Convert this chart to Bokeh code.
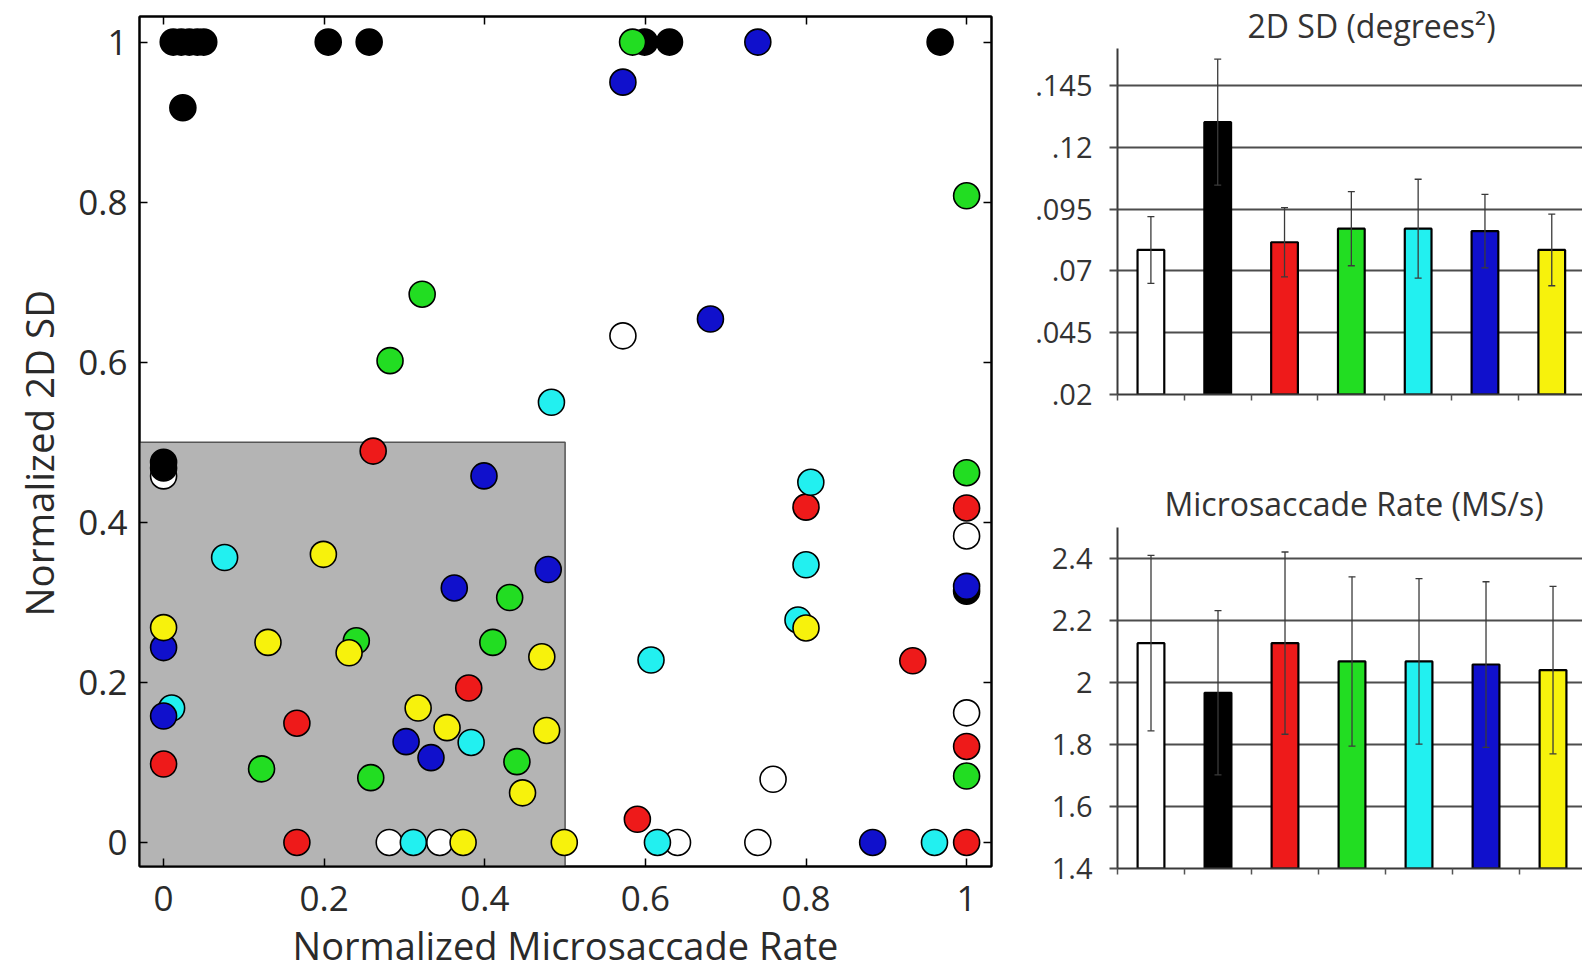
from bokeh.plotting import figure
from bokeh.layouts import row, column
from bokeh.models import LinearAxis, FixedTicker, Range1d, ColumnDataSource, Whisker, TeeHead, Title
from bokeh.embed import file_html
from bokeh.resources import INLINE

FONT = "Open Sans"
TXT = "#2a2a2a"

# ---------------- data ----------------
condition_names = ["White", "Black", "Red", "Green", "Cyan", "Blue", "Yellow"]
condition_colors = ["#ffffff", "#000000", "#ee1a1a", "#22dd22", "#22f0f0", "#1010cc", "#f7f20c"]

white_x = [0.572, 0.0, 1.0, 1.0, 0.759, 0.281, 0.344, 0.64, 0.74]
white_y = [0.633, 0.458, 0.383, 0.162, 0.079, 0.0, 0.0, 0.0, 0.0]

black_x = [0.012, 0.022, 0.032, 0.042, 0.05, 0.024, 0.205, 0.256, 0.599, 0.63, 0.967, 0.0, 0.0, 1.0]
black_y = [1.0, 1.0, 1.0, 1.0, 1.0, 0.918, 1.0, 1.0, 1.0, 1.0, 1.0, 0.475, 0.468, 0.314]

red_x = [0.261, 0.8, 1.0, 0.933, 0.38, 0.166, 0.0, 1.0, 0.166, 0.59, 1.0]
red_y = [0.489, 0.419, 0.418, 0.227, 0.193, 0.149, 0.098, 0.12, 0.0, 0.029, 0.0]

green_x = [0.584, 1.0, 0.322, 0.282, 1.0, 0.431, 0.24, 0.41, 0.122, 0.258, 0.44, 1.0]
green_y = [1.0, 0.808, 0.685, 0.602, 0.462, 0.306, 0.252, 0.25, 0.092, 0.081, 0.101, 0.083]

cyan_x = [0.483, 0.076, 0.806, 0.8, 0.79, 0.607, 0.01, 0.383, 0.311, 0.615, 0.96]
cyan_y = [0.55, 0.356, 0.45, 0.347, 0.278, 0.228, 0.168, 0.125, 0.0, 0.0, 0.0]

blue_x = [0.74, 0.572, 0.681, 0.399, 0.479, 0.362, 0.0, 1.0, 0.0, 0.302, 0.333, 0.883]
blue_y = [1.0, 0.95, 0.654, 0.458, 0.341, 0.318, 0.2435, 0.32, 0.158, 0.126, 0.106, 0.0]

yellow_x = [0.199, 0.0, 0.13, 0.231, 0.471, 0.8, 0.317, 0.353, 0.477, 0.447, 0.373, 0.499]
yellow_y = [0.36, 0.2685, 0.25, 0.237, 0.232, 0.268, 0.168, 0.1435, 0.14, 0.062, 0.0, 0.0]

scatter_x = [white_x, black_x, red_x, green_x, cyan_x, blue_x, yellow_x]
scatter_y = [white_y, black_y, red_y, green_y, cyan_y, blue_y, yellow_y]

# shaded "low rate / low SD" region (upper bounds in normalized units)
shade_rate_max = 0.5
shade_sd_max = 0.5

scatter_ticks = [0, 0.2, 0.4, 0.6, 0.8, 1]
scatter_tick_labels = ["0", "0.2", "0.4", "0.6", "0.8", "1"]
x_title = "Normalized Microsaccade Rate"
y_title = "Normalized 2D SD"

bar_positions = [1, 2, 3, 4, 5, 6, 7]

sd_mean = [0.0785, 0.1302, 0.0816, 0.0871, 0.0871, 0.0861, 0.0785]
sd_err = [0.0135, 0.0255, 0.014, 0.015, 0.02, 0.0149, 0.0145]
sd_ticks = [0.02, 0.045, 0.07, 0.095, 0.12, 0.145]
sd_tick_labels = [".02", ".045", ".07", ".095", ".12", ".145"]

rate_mean = [2.127, 1.967, 2.127, 2.068, 2.068, 2.058, 2.04]
rate_err = [0.283, 0.265, 0.294, 0.273, 0.267, 0.267, 0.27]
rate_ticks = [1.4, 1.6, 1.8, 2.0, 2.2, 2.4]
rate_tick_labels = ["1.4", "1.6", "1.8", "2", "2.2", "2.4"]

# ---------------- scatter ----------------
X_MIN, X_MAX = -0.03, 1.031
Y_MIN, Y_MAX = -0.03, 1.032

p = figure(width=1010, height=974, x_range=Range1d(X_MIN, X_MAX), y_range=Range1d(Y_MIN, Y_MAX),
           output_backend="svg", toolbar_location=None,
           min_border_left=138, min_border_right=19, min_border_top=16, min_border_bottom=108)
p.grid.visible = False
p.outline_line_color = "black"
p.outline_line_width = 2

p.quad(left=[X_MIN], right=[shade_rate_max], bottom=[Y_MIN], top=[shade_sd_max],
       fill_color="#b4b4b4", line_color="#555555", line_width=1.5)

for xs, ys, col in zip(scatter_x, scatter_y, condition_colors):
    p.scatter(xs, ys, size=26, marker="circle", fill_color=col, line_color="black", line_width=1.6)

for ax in (p.xaxis[0], p.yaxis[0]):
    ax.ticker = FixedTicker(ticks=scatter_ticks)
    ax.major_label_overrides = dict(zip(scatter_ticks, scatter_tick_labels))
    ax.major_tick_in = 8
    ax.major_tick_out = 0
    ax.major_tick_line_width = 1.5
    ax.minor_tick_line_color = None
    ax.axis_line_width = 2
    ax.major_label_text_font = FONT
    ax.major_label_text_font_size = "35px"
    ax.major_label_text_color = TXT

p.xaxis[0].major_label_standoff = 19
p.yaxis[0].major_label_standoff = 12

# axis titles as side-panel titles (stacked outside the tick labels)
p.add_layout(Title(text=x_title, align="center", text_font=FONT, text_font_size="38px",
                   text_font_style="normal", text_color=TXT, standoff=6), "below")
p.add_layout(Title(text=y_title, align="left", offset=250, text_font=FONT, text_font_size="38.5px",
                   text_font_style="normal", text_color=TXT, standoff=21), "left")

for side in ("above", "right"):
    ax = LinearAxis(ticker=FixedTicker(ticks=scatter_ticks),
                    major_label_overrides={t: "" for t in scatter_ticks},
                    major_label_text_font_size="0px", major_label_standoff=0,
                    major_tick_in=8, major_tick_out=0, major_tick_line_width=1.5,
                    minor_tick_line_color=None, axis_line_width=2)
    p.add_layout(ax, side)


# ---------------- bar charts ----------------
def bar_chart(title, means, errs, base, top, ticks, labels, width, height,
              left, btop, bottom, xmax, title_offset, title_standoff):
    f = figure(width=width, height=height, x_range=Range1d(0.5, xmax), y_range=Range1d(base, top),
               output_backend="svg", toolbar_location=None,
               min_border_left=left, min_border_right=0, min_border_top=btop, min_border_bottom=bottom)
    f.outline_line_color = None
    f.xgrid.visible = False
    f.ygrid.ticker = FixedTicker(ticks=ticks)
    f.ygrid.grid_line_color = "#4d4d4d"
    f.ygrid.grid_line_width = 2.2

    f.vbar(x=bar_positions, top=means, bottom=base, width=0.4,
           fill_color=condition_colors, line_color="black", line_width=2.2)

    src = ColumnDataSource(dict(x=bar_positions,
                                upper=[m + e for m, e in zip(means, errs)],
                                lower=[m - e for m, e in zip(means, errs)]))
    w = Whisker(base="x", upper="upper", lower="lower", source=src,
                line_color="#3a3a3a", line_width=1.3, level="annotation",
                upper_head=TeeHead(size=7, line_color="#3a3a3a", line_width=1.3),
                lower_head=TeeHead(size=7, line_color="#3a3a3a", line_width=1.3))
    f.add_layout(w)

    ya = f.yaxis[0]
    ya.ticker = FixedTicker(ticks=ticks)
    ya.major_label_overrides = dict(zip(ticks, labels))
    ya.major_tick_out = 8
    ya.major_tick_in = 0
    ya.major_tick_line_color = "#4d4d4d"
    ya.major_tick_line_width = 2
    ya.minor_tick_line_color = None
    ya.axis_line_color = "#3a3a3a"
    ya.axis_line_width = 2
    ya.major_label_text_font = FONT
    ya.major_label_text_font_size = "29px"
    ya.major_label_text_color = "#333333"
    ya.major_label_standoff = 17

    xa = f.xaxis[0]
    xa.ticker = FixedTicker(ticks=[b + 0.5 for b in [0] + bar_positions])
    xa.major_label_overrides = {b + 0.5: "" for b in [0] + bar_positions}
    xa.major_label_text_font_size = "0px"
    xa.major_tick_out = 6
    xa.major_tick_in = 0
    xa.major_tick_line_color = "#555555"
    xa.major_tick_line_width = 1.5
    xa.minor_tick_line_color = None
    xa.axis_line_color = "#3a3a3a"
    xa.axis_line_width = 2

    f.title.text = title
    f.title.align = "left"
    f.title.offset = title_offset
    f.title.text_font = FONT
    f.title.text_font_size = "32px"
    f.title.text_font_style = "normal"
    f.title.text_color = "#333333"
    f.title.standoff = title_standoff
    return f


b1 = bar_chart("2D SD (degrees\u00b2)", sd_mean, sd_err, sd_ticks[0], 0.16, sd_ticks, sd_tick_labels,
               572, 434, 107, 48, 40, 7.46, 130, 3)
b2 = bar_chart("Microsaccade Rate (MS/s)", rate_mean, rate_err, rate_ticks[0], 2.5, rate_ticks, rate_tick_labels,
               572, 540, 107, 93, 106, 7.44, 47, 6)

layout = row(p, column(b1, b2, spacing=0), spacing=0)

with open("out.html", "w") as fh:
    fh.write(file_html(layout, INLINE))
